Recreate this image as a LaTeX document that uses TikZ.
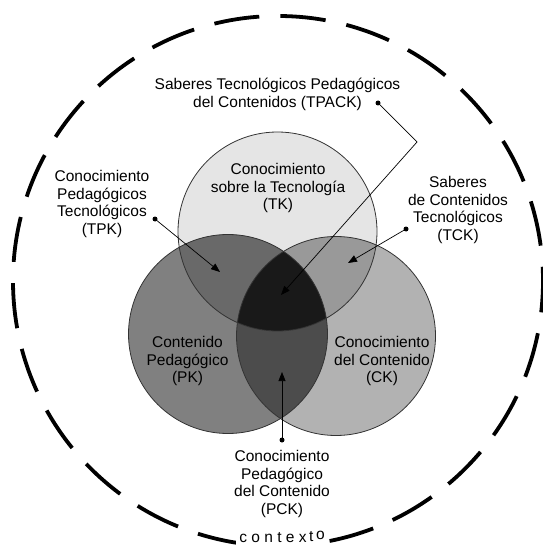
\documentclass[tikz,border=0pt]{standalone}
\usepackage{fontspec}
\setmainfont{Liberation Sans}
\usetikzlibrary{arrows.meta}

\definecolor{cT}{gray}{0.90}
\definecolor{cP}{gray}{0.50}
\definecolor{cC}{gray}{0.70}
\definecolor{cTP}{gray}{0.41}
\definecolor{cTC}{gray}{0.60}
\definecolor{cPC}{gray}{0.30}
\definecolor{cTPC}{gray}{0.10}

\begin{document}
\begin{tikzpicture}[x=1pt,y=-1pt,
	lbl/.style={align=center,font=\fontsize{15.5}{17.8}\selectfont},
	dot/.style={circle,fill=black,inner sep=0pt,minimum size=5pt},
	arr/.style={-{Triangle[length=9pt,width=7pt]},line width=0.7pt},
	ring/.style={draw=black!80,line width=0.8pt}]
	\useasboundingbox (0,0) rectangle (542,548);

	\coordinate (cTK) at (277.5,231.5);
	\coordinate (cPK) at (228,334);
	\coordinate (cCK) at (336,336);

	\fill[cT] (cTK) circle (99.5);
	\fill[cP] (cPK) circle (99.5);
	\fill[cC] (cCK) circle (99.5);
	\begin{scope}
		\clip (cPK) circle (99.5);
		\fill[cPC] (cCK) circle (99.5);
	\end{scope}
	\begin{scope}
		\clip (cTK) circle (99.5);
		\fill[cTP] (cPK) circle (99.5);
		\fill[cTC] (cCK) circle (99.5);
		\clip (cPK) circle (99.5);
		\fill[cTPC] (cCK) circle (99.5);
	\end{scope}
	\draw[ring] (cTK) circle (99.5);
	\draw[ring] (cPK) circle (99.5);
	\draw[ring] (cCK) circle (99.5);

	\draw[line width=3.8pt,dash pattern=on 45.4pt off 21.2pt,dash phase=14pt] (278,281) circle (265);

	\node[lbl] (TK) at (278,188) {Conocimiento\\sobre la Tecnología\\(TK)};
	\node[lbl] (PK) at (187.5,361) {Contenido\\Pedagógico\\(PK)};
	\node[lbl] (CK) at (382,361) {Conocimiento\\del Contenido\\(CK)};
	\node[lbl] (TPACK) at (277.5,94) {Saberes Tecnológicos Pedagógicos\\del Contenidos (TPACK)};
	\node[lbl] (TPK) at (102,204) {Conocimiento\\Pedagógicos\\Tecnológicos\\(TPK)};
	\node[lbl] (TCK) at (458,210) {Saberes\\de Contenidos\\Tecnológicos\\(TCK)};
	\node[lbl] (PCK) at (282,484) {Conocimiento\\Pedagógico\\del Contenido\\(PCK)};
	\node[lbl,fill=white,inner xsep=3pt,inner ysep=5pt] (ctx) at (282,537)
		{\addfontfeature{LetterSpace=28}contex\,\raisebox{1.5pt}{t}\,\raisebox{3pt}{o}};

	\node[dot] (dTPACK) at (378,103) {};
	\node[dot] (dTPK) at (155,219) {};
	\node[dot] (dTCK) at (406,229) {};
	\node[dot] (dPCK) at (282,440) {};
	\coordinate (bend) at (417,142);
	\coordinate (tTPACK) at (281,295);
	\coordinate (tTPK) at (220,272);
	\coordinate (tTCK) at (348,263);
	\coordinate (tPCK) at (282,372);

	\draw[arr] (dTPACK.center) -- (bend) -- (tTPACK);
	\draw[arr] (dTPK.center) -- (tTPK);
	\draw[arr] (dTCK.center) -- (tTCK);
	\draw[arr] (dPCK.center) -- (tPCK);

\end{tikzpicture}
\end{document}
